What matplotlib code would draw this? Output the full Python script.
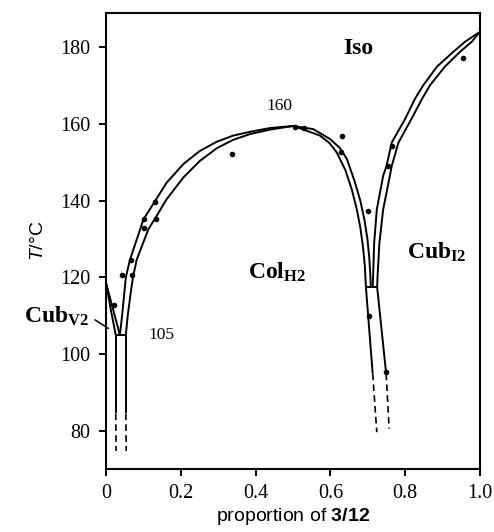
import matplotlib
matplotlib.use('Agg')
import matplotlib.pyplot as plt

plt.rcParams['mathtext.fontset'] = 'custom'
plt.rcParams['mathtext.rm'] = 'Liberation Serif'
plt.rcParams['mathtext.bf'] = 'Liberation Serif:bold'
plt.rcParams['mathtext.it'] = 'Liberation Sans:italic'
plt.rcParams['mathtext.sf'] = 'Liberation Sans:bold'

# phase boundaries (x = proportion, T in degC)
colh2_outer_x = [0.037, 0.043, 0.049, 0.053, 0.064, 0.100, 0.131, 0.162, 0.207, 0.251, 0.296, 0.340, 0.385, 0.440, 0.500,
                 0.554, 0.599, 0.625, 0.644, 0.665, 0.680, 0.691, 0.699, 0.704, 0.707, 0.708]
colh2_outer_t = [105, 110, 116, 120, 124.6, 135.1, 139.9, 144.7, 149.6, 153.0, 155.4, 157.0, 158.0, 159.0, 159.5,
                 158.7, 156.1, 153.8, 150.9, 145, 140, 135, 130, 125, 120, 117.4]
colh2_inner_x = [0.053, 0.058, 0.066, 0.072, 0.082, 0.113, 0.135, 0.162, 0.207, 0.251, 0.296, 0.340, 0.385, 0.440, 0.500,
                 0.519, 0.572, 0.597, 0.617, 0.640, 0.657, 0.670, 0.680, 0.687, 0.692, 0.695]
colh2_inner_t = [105, 110, 116, 120, 124.6, 132.5, 136.0, 140.4, 146.1, 150.4, 153.7, 155.9, 157.4, 158.6, 159.5,
                 158.9, 157.0, 155.1, 152.6, 148, 143, 138, 133, 128, 123, 117.4]

cubi2_inner_x = [0.713, 0.714, 0.717, 0.724, 0.741, 0.750, 0.764, 0.800, 0.826, 0.848, 0.885, 0.929, 0.960, 1.0]
cubi2_inner_t = [117.4, 120, 129, 137.7, 146.5, 149.1, 155.2, 161.4, 166.6, 170.1, 175.0, 178.9, 181.5, 184.1]
cubi2_outer_x = [0.725, 0.726, 0.731, 0.741, 0.759, 0.764, 0.782, 0.817, 0.845, 0.866, 0.906, 0.947, 0.978, 1.0]
cubi2_outer_t = [117.4, 120.2, 129, 137.7, 146.5, 149.1, 155.2, 161.4, 166.6, 170.1, 175.0, 178.9, 181.5, 184.1]

cubv2_a_x = [0.0, 0.012, 0.026]
cubv2_a_t = [118.6, 112, 105]
cubv2_b_x = [0.0, 0.037]
cubv2_b_t = [118.6, 105]

# horizontal tie lines
tie105_x = [0.026, 0.053]
tie105_t = [105, 105]
tie117_x = [0.693, 0.725]
tie117_t = [117.4, 117.4]

# low temperature boundaries (solid part, dashed extrapolation)
low1_x, low1_t = [0.026, 0.026], [105, 84.5]
low1d_x, low1d_t = [0.026, 0.027], [84.5, 74.7]
low2_x, low2_t = [0.053, 0.053], [105, 84.5]
low2d_x, low2d_t = [0.053, 0.054], [84.5, 74.7]
low3_x, low3_t = [0.695, 0.713], [117.4, 94.9]
low3d_x, low3d_t = [0.713, 0.724], [94.9, 79.6]
low4_x, low4_t = [0.725, 0.749], [117.4, 94.9]
low4d_x, low4d_t = [0.749, 0.757], [94.9, 80.5]

# measured points
pts_x = [0.021, 0.042, 0.070, 0.067, 0.102, 0.102, 0.134, 0.131, 0.336, 0.505, 0.530,
         0.631, 0.628, 0.701, 0.703, 0.749, 0.755, 0.764, 0.954]
pts_t = [112.8, 120.7, 120.7, 124.6, 132.8, 135.3, 135.3, 139.8, 152.2, 159.3, 159.1,
         157.0, 152.6, 137.3, 110.0, 95.2, 149.1, 154.4, 177.3]

xticks = [0, 0.2, 0.4, 0.6, 0.8, 1.0]
xticklabels = ['0', '0.2', '0.4', '0.6', '0.8', '1.0']
yticks = [80, 100, 120, 140, 160, 180]

fig = plt.figure(figsize=(4.94, 5.32), dpi=100)
ax = fig.add_axes([0.2146, 0.1184, 0.7571, 0.8572])

lw = 1.4
for xs, ts in [(colh2_outer_x, colh2_outer_t), (colh2_inner_x, colh2_inner_t),
               (cubi2_inner_x, cubi2_inner_t), (cubi2_outer_x, cubi2_outer_t),
               (cubv2_a_x, cubv2_a_t), (cubv2_b_x, cubv2_b_t),
               (tie105_x, tie105_t), (tie117_x, tie117_t),
               (low1_x, low1_t), (low2_x, low2_t), (low3_x, low3_t), (low4_x, low4_t)]:
    ax.plot(xs, ts, color='black', lw=lw, solid_capstyle='butt')
for xs, ts in [(low1d_x, low1d_t), (low2d_x, low2d_t), (low3d_x, low3d_t), (low4d_x, low4d_t)]:
    ax.plot(xs, ts, color='black', lw=1.2, dashes=(4, 2.5))

ax.plot(pts_x, pts_t, 'o', color='black', ms=3)

# Cub_V2 leader line
ax.plot([-0.029, 0.006], [108.9, 106.7], color='black', lw=1.1, clip_on=False)

ax.set_xlim(0, 1.0)
ax.set_ylim(70, 189)
ax.set_xticks(xticks)
ax.set_xticklabels(xticklabels)
ax.set_yticks(yticks)
for lab in ax.get_xticklabels() + ax.get_yticklabels():
    lab.set_family('Liberation Serif')
    lab.set_fontsize(14.5)
ax.tick_params(direction='out', length=5, width=1.4, pad=6)
for s in ax.spines.values():
    s.set_linewidth(1.5)

ax.set_xlabel(r'proportion of $\mathsf{3/12}$', family='Liberation Sans', fontsize=14, labelpad=2)
ax.set_ylabel(r'$\mathit{T}$/°C', family='Liberation Sans', fontsize=14, labelpad=10)

ax.text(0.674, 179.7, 'Iso', family='Liberation Serif', weight='bold', fontsize=17, ha='center', va='center')
ax.text(0.457, 121.5, r'$\mathbf{Col_{H2}}$', fontsize=17, ha='center', va='center')
ax.text(0.885, 126.5, r'$\mathbf{Cub_{I2}}$', fontsize=17, ha='center', va='center')
ax.text(-0.045, 110, r'$\mathbf{Cub_{V2}}$', fontsize=17, ha='right', va='center', clip_on=False)
ax.text(0.147, 104.9, '105', family='Liberation Serif', fontsize=12.5, ha='center', va='center')
ax.text(0.463, 164.8, '160', family='Liberation Serif', fontsize=12.5, ha='center', va='center')

fig.savefig('out.png', dpi=100)
